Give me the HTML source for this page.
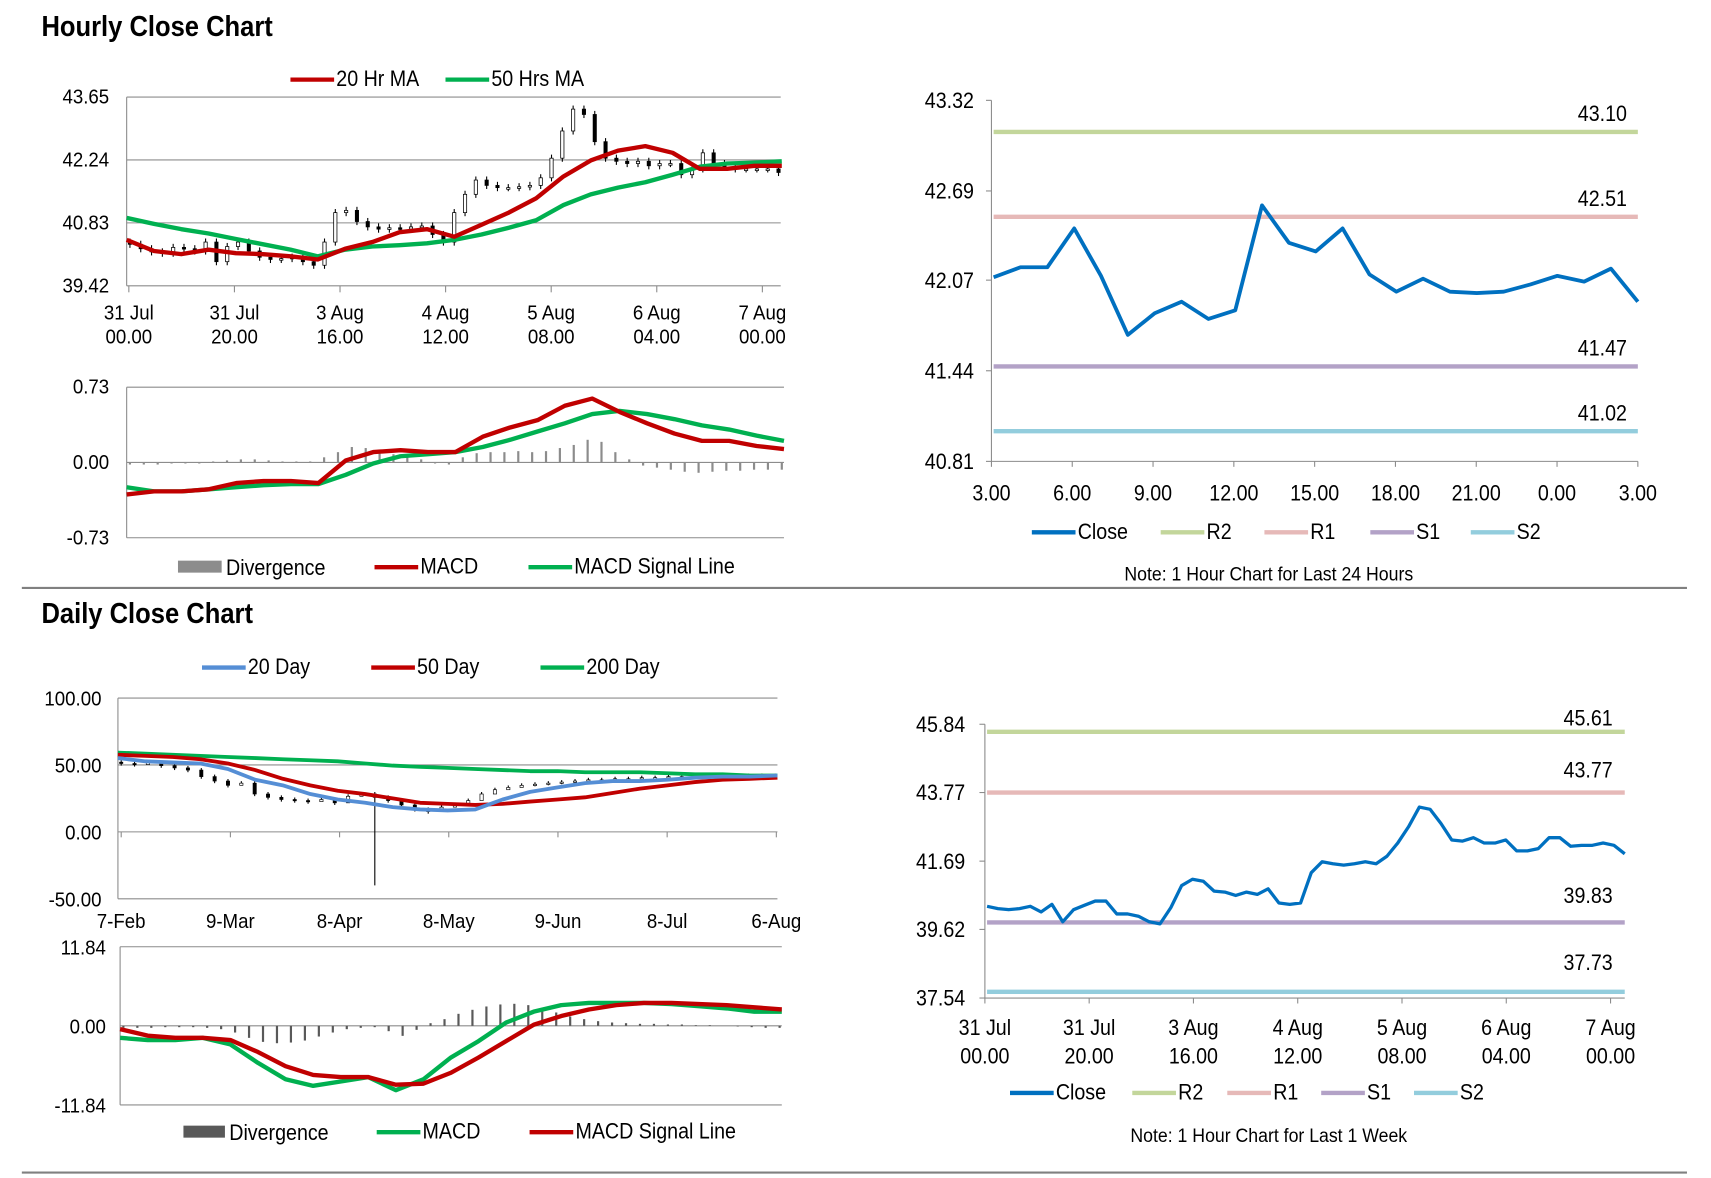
<!DOCTYPE html>
<html><head><meta charset="utf-8">
<style>
html,body{margin:0;padding:0;background:#fff;}
svg{display:block;}
text{font-family:"Liberation Sans Narrow","Liberation Sans",sans-serif;fill:#000;}
</style></head>
<body>
<svg id="c" width="1711" height="1178" viewBox="0 0 1567 1080" preserveAspectRatio="none" xmlns="http://www.w3.org/2000/svg"></svg>
<script>
// ---- Hourly candle chart data ----
const hCloses = [40.35,40.25,40.18,40.15,40.28,40.25,40.20,40.40,39.96,40.30,40.40,40.20,40.06,40.01,40.03,40.06,39.96,39.88,40.40,41.06,41.11,40.86,40.74,40.69,40.72,40.69,40.74,40.76,40.57,40.40,41.06,41.47,41.79,41.67,41.62,41.62,41.64,41.67,41.84,42.28,42.89,43.38,43.26,42.65,42.28,42.21,42.16,42.21,42.11,42.16,42.16,41.91,42.04,42.40,42.16,42.09,42.04,42.04,42.04,42.04,41.96];
const hMA20 = [40.45,40.20,40.13,40.23,40.15,40.13,40.08,40.01,40.25,40.40,40.62,40.69,40.52,40.79,41.06,41.38,41.87,42.23,42.45,42.55,42.40,42.04,42.04,42.11,42.11];
const hMA50 = [40.94,40.81,40.69,40.59,40.47,40.35,40.23,40.08,40.23,40.30,40.33,40.37,40.45,40.57,40.72,40.89,41.23,41.47,41.62,41.74,41.91,42.09,42.16,42.18,42.21];
const hYTicks = [39.42,40.83,42.24,43.65];
const hXLabels1 = ["31 Jul","31 Jul","3 Aug","4 Aug","5 Aug","6 Aug","7 Aug"];
const hXLabels2 = ["00.00","20.00","16.00","12.00","08.00","04.00","00.00"];
// ---- Hourly MACD ----
const hMacd = [-0.31,-0.28,-0.28,-0.26,-0.20,-0.18,-0.18,-0.20,0.02,0.10,0.12,0.10,0.10,0.25,0.34,0.41,0.55,0.62,0.49,0.38,0.28,0.21,0.21,0.16,0.13];
const hSignal = [-0.24,-0.28,-0.28,-0.26,-0.24,-0.22,-0.21,-0.21,-0.12,-0.01,0.06,0.08,0.10,0.15,0.22,0.30,0.38,0.47,0.50,0.47,0.42,0.36,0.32,0.26,0.21];
const hDiv = [-0.02,-0.02,-0.02,-0.01,-0.01,-0.01,0.01,0.02,0.03,0.03,0.02,0.01,0.01,0.01,0.05,0.1,0.15,0.14,0.1,0.08,0.06,0.03,-0.01,-0.02,0.05,0.09,0.1,0.1,0.11,0.1,0.11,0.14,0.17,0.22,0.2,0.1,0.03,-0.03,-0.05,-0.07,-0.09,-0.1,-0.09,-0.08,-0.08,-0.07,-0.07,-0.07];
const hMacdTicks = [-0.73,0.00,0.73];
// ---- 24h close ----
const dayClose = [42.09,42.16,42.16,42.43,42.10,41.69,41.84,41.92,41.80,41.86,42.59,42.33,42.27,42.43,42.11,41.99,42.08,41.99,41.98,41.99,42.04,42.10,42.06,42.15,41.92];
const dayLevels = [43.10,42.51,41.47,41.02];
const dayYTicks = [40.81,41.44,42.07,42.69,43.32];
const dayXLabels = ["3.00","6.00","9.00","12.00","15.00","18.00","21.00","0.00","3.00"];
// ---- Daily chart ----
const dCloses = [51.1,50.3,51.9,49.5,47.8,46.2,41.3,38.0,34.8,36.4,28.3,25.8,24.2,23.4,22.6,24.2,21.7,26.6,28.3,25.8,23.4,20.1,16.8,15.2,18.5,20.1,23.4,28.3,31.5,33.2,34.8,35.6,36.4,37.2,38.0,38.9,38.9,39.7,39.7,40.5,40.5,41.3,41.3,41.3,42.1,41.3,42.1,41.3,42.1,41.3];
const dLows = [49.5,48.8,50.3,47.9,46.2,44.6,39.7,36.4,33.2,34.8,26.7,24.2,22.6,21.8,21.0,22.6,20.1,25.0,26.7,-40.0,21.8,18.5,15.2,13.6,16.9,18.5,21.8,26.7,29.9,31.6,33.2,34.0,34.8,35.6,36.4,37.3,37.3,38.1,38.1,38.9,38.9,39.7,39.7,39.7,40.5,39.7,40.5,39.7,40.5,39.7];
const d20 = [55.2,52.7,51.9,51.1,47.0,38.9,34.8,28.3,24.2,21.7,18.5,16.8,16.0,16.8,24.2,29.9,33.2,36.4,38.0,38.0,38.9,40.5,41.3,41.3,42.1];
const d50 = [57.6,56.8,56.0,54.3,51.1,46.2,39.7,34.8,30.7,28.3,25.0,21.7,20.9,20.1,20.9,22.6,24.2,25.8,29.1,32.3,34.8,37.2,38.9,39.7,40.5];
const d200 = [59.2,58.4,57.6,56.8,56.0,55.2,54.3,53.5,52.7,51.1,49.5,48.6,47.8,47.0,46.2,45.4,45.4,44.6,44.6,44.6,43.8,43.0,43.0,42.1,42.1];
const dYTicks = [-50,0,50,100];
const dXLabels = ["7-Feb","9-Mar","8-Apr","8-May","9-Jun","8-Jul","6-Aug"];
// ---- Daily MACD ----
const dMacd = [-1.80,-2.12,-2.12,-1.80,-2.78,-5.55,-8.00,-8.98,-8.33,-7.68,-9.63,-8.00,-4.74,-2.29,0.49,2.12,3.10,3.43,3.43,3.43,3.27,2.94,2.61,2.12,2.12];
const dSignal = [-0.49,-1.47,-1.80,-1.80,-2.12,-3.92,-6.04,-7.35,-7.68,-7.68,-8.82,-8.65,-7.02,-4.74,-2.29,0.16,1.47,2.45,3.10,3.43,3.43,3.27,3.10,2.78,2.45];
const dDiv = [-0.3,-0.3,-0.3,-0.2,-0.2,-0.2,-0.3,-0.5,-1.0,-1.8,-2.4,-2.6,-2.5,-2.2,-1.6,-1.0,-0.5,-0.3,-0.2,-0.8,-1.5,-0.6,0.4,1.0,1.8,2.4,2.9,3.2,3.3,3.1,2.6,2.0,1.4,1.0,0.7,0.5,0.4,0.3,0.3,0.2,0.2,0.1,0.1,0.0,-0.1,-0.2,-0.3,-0.3];
const dMacdTicks = [-11.84,0.00,11.84];
// ---- Week close ----
const wkClose = [40.32,40.25,40.22,40.25,40.32,40.15,40.38,39.85,40.22,40.35,40.48,40.48,40.09,40.09,40.02,39.85,39.79,40.28,40.95,41.14,41.08,40.78,40.75,40.65,40.75,40.68,40.85,40.42,40.38,40.42,41.34,41.67,41.61,41.57,41.61,41.67,41.61,41.84,42.24,42.73,43.33,43.26,42.83,42.33,42.30,42.40,42.24,42.24,42.33,42.00,42.00,42.07,42.40,42.40,42.14,42.17,42.17,42.24,42.17,41.91];
const wkLevels = [45.61,43.77,39.83,37.73];
const wkYTicks = [37.54,39.62,41.69,43.77,45.84];
const wkXLabels1 = ["31 Jul","31 Jul","3 Aug","4 Aug","5 Aug","6 Aug","7 Aug"];
const wkXLabels2 = ["00.00","20.00","16.00","12.00","08.00","04.00","00.00"];

const NS = "http://www.w3.org/2000/svg";
const svg = document.getElementById('c');
const SX = 0.9;
function mk(tag, attrs, name, parent){
  const e = document.createElementNS(NS, tag);
  for (const k in attrs) e.setAttribute(k, attrs[k]);
  
  
  (parent || svg).appendChild(e);
  return e;
}
function txt(x, y, s, name, size, anchor, weight){
  const t = mk('text', {x:(x/SX).toFixed(1), y:y, transform:'scale('+SX+',1)', 'font-size':size||17, 'text-anchor':anchor||'start', 'font-weight':weight||'normal'}, name);
  t.textContent = s;
  return t;
}
function lin(d0,d1,r0,r1){ return v => r0 + (v-d0)/(d1-d0)*(r1-r0); }
function line(x1,y1,x2,y2,stroke,w,name){ return mk('line',{x1:x1,y1:y1,x2:x2,y2:y2,stroke:stroke,'stroke-width':w},name); }
function poly(arr, xs, ys, color, w, name){
  const pts = arr.map((v,i)=>xs(i).toFixed(1)+','+ys(v).toFixed(1)).join(' ');
  return mk('polyline',{points:pts,fill:'none',stroke:color,'stroke-width':w,'stroke-linejoin':'round'},name);
}
function fmt(v,d){ return v.toFixed(d); }
function legendLine(x,y,color,label,name,w){
  line(x,y,x+40,y,color,w||4,name+'-swatch');
  txt(x+42,y+6,label,name+'-label',20);
}

// Titles & separators
txt(38,33,"Hourly Close Chart","hourly-title",26,'start','bold');
txt(38,571,"Daily Close Chart","daily-title",26,'start','bold');
line(20,539,1545,539,'#808080',2,'section-separator');
line(20,1075,1545,1075,'#808080',2,'bottom-separator');

// ===== Hourly candle chart =====
(function(){
  const L=116,R=715,T=89,B=262;
  const y = lin(39.42,43.65,B,T);
  hYTicks.forEach((v,i)=>{
    line(L,y(v),R,y(v),'#8c8c8c',1,'h-gridline');
    txt(100,y(v)+6,fmt(v,2),'h-y-tick-label',19,'end');
  });
  line(L,T,L,B,'#8c8c8c',1,'h-y-axis');
  hXLabels1.forEach((s,i)=>{
    const x = 118 + i*96.7;
    line(x,B,x,B+6,'#8c8c8c',1,'h-x-tick');
    txt(x,293,s,'h-x-tick-label',19,'middle');
    txt(x,315,hXLabels2[i],'h-x-tick-label-time',19,'middle');
  });
  const xc = lin(0,hCloses.length-1,L+3,R-2);
  hCloses.forEach((c,i)=>{
    const o = i>0 ? hCloses[i-1] : c+0.05;
    const hi = Math.max(o,c)+0.08, lo = Math.min(o,c)-0.08;
    const x = xc(i);
    line(x,y(hi),x,y(lo),'#000',1,'h-candle-wick');
    const top = y(Math.max(o,c)), h = Math.max(1.5, Math.abs(y(o)-y(c)));
    mk('rect',{x:x-1.5,y:top,width:3,height:h,fill:c>=o?'#fff':'#000',stroke:'#000','stroke-width':0.7},'h-candle');
  });
  const xm = lin(0,hMA20.length-1,L,R+1);
  poly(hMA50,xm,y,'#00b050',4,'h-ma50-line');
  poly(hMA20,xm,y,'#c00000',4,'h-ma20-line');
  legendLine(266,73,'#c00000','20 Hr MA','legend-20hr-ma');
  legendLine(408,73,'#00b050','50 Hrs MA','legend-50hrs-ma');
})();

// ===== Hourly MACD =====
(function(){
  const L=116,R=718,T=355,B=493;
  const y = lin(-0.73,0.73,B,T);
  line(L,T,R,T,'#8c8c8c',1,'hm-top-gridline');
  line(L,B,R,B,'#8c8c8c',1,'hm-bottom-gridline');
  line(L,y(0),R,y(0),'#8c8c8c',1,'hm-zero-line');
  line(L,T,L,B,'#8c8c8c',1,'hm-y-axis');
  hMacdTicks.forEach(v=>txt(100,y(v)+6,fmt(v,2),'hm-y-tick-label',19,'end'));
  const xb = lin(0,hDiv.length-1,L+3,R-2);
  hDiv.forEach((v,i)=>{
    mk('rect',{x:xb(i)-1,y:Math.min(y(v),y(0)),width:2,height:Math.abs(y(v)-y(0)),fill:'#8c8c8c'},'hm-divergence-bar');
  });
  const xm = lin(0,hMacd.length-1,L,R);
  poly(hSignal,xm,y,'#00b050',4,'hm-signal-line');
  poly(hMacd,xm,y,'#c00000',4,'hm-macd-line');
  mk('rect',{x:163,y:514,width:40,height:11,fill:'#8c8c8c'},'legend-divergence-swatch');
  txt(207,527,'Divergence','legend-divergence-label',20);
  legendLine(343,520,'#c00000','MACD','legend-macd');
  legendLine(484,520,'#00b050','MACD Signal Line','legend-macd-signal');
})();

// ===== 24h close chart =====
(function(){
  const L=908,R=1500,T=92,B=423;
  const y = lin(40.81,43.32,B,T);
  line(L,T,L,B,'#8c8c8c',1,'r1-y-axis');
  line(L,B,R,B,'#8c8c8c',1,'r1-x-axis');
  dayYTicks.forEach(v=>{
    line(L-5,y(v),L,y(v),'#8c8c8c',1,'r1-y-tick');
    txt(892,y(v)+7,fmt(v,2),'r1-y-tick-label',20,'end');
  });
  dayXLabels.forEach((s,i)=>{
    const x = L + i*(R-L)/8;
    line(x,B,x,B+5,'#8c8c8c',1,'r1-x-tick');
    txt(x,459,s,'r1-x-tick-label',20,'middle');
  });
  const cols = ['#c3d69b','#e6b9b8','#b3a2c7','#93cddd'];
  const names = ['r2','r1','s1','s2'];
  dayLevels.forEach((v,i)=>{
    line(L+2,y(v),R,y(v),cols[i],4,'r1-level-'+names[i]);
    txt(1490,y(v)-10,fmt(v,2),'r1-level-label-'+names[i],20,'end');
  });
  const x = lin(0,dayClose.length-1,L+2,R);
  poly(dayClose,x,y,'#0070c0',3.5,'r1-close-line');
  legendLine(945,488,'#0070c0','Close','legend-close');
  legendLine(1063,488,'#c3d69b','R2','legend-r2');
  legendLine(1158,488,'#e6b9b8','R1','legend-r1');
  legendLine(1255,488,'#b3a2c7','S1','legend-s1');
  legendLine(1347,488,'#93cddd','S2','legend-s2');
  txt(1162,532,'Note: 1 Hour Chart for Last 24 Hours','r1-note',18,'middle');
})();

// ===== Daily chart =====
(function(){
  const L=108,R=712,T=640,B=824;
  const y = lin(-50,100,B,T);
  dYTicks.forEach(v=>{
    line(L,y(v),R,y(v),'#8c8c8c',1,'d-gridline');
    txt(93,y(v)+7,fmt(v,2),'d-y-tick-label',19,'end');
  });
  line(L,T,L,B,'#8c8c8c',1,'d-y-axis');
  dXLabels.forEach((s,i)=>{
    const x = 111 + i*100;
    line(x,y(0),x,y(0)+5,'#8c8c8c',1,'d-x-tick');
    txt(x,851,s,'d-x-tick-label',19,'middle');
  });
  const xc = lin(0,dCloses.length-1,L+3,R-2);
  dCloses.forEach((c,i)=>{
    const o = i>0 ? dCloses[i-1] : c+1;
    const x = xc(i);
    line(x,y(Math.max(o,c)+1.5),x,y(dLows[i]),'#000',1,'d-candle-wick');
    mk('rect',{x:x-1.5,y:y(Math.max(o,c)),width:3,height:Math.max(1.2,Math.abs(y(o)-y(c))),fill:c>=o?'#fff':'#000',stroke:'#000','stroke-width':0.6},'d-candle');
  });
  const xm = lin(0,d20.length-1,L,R);
  poly(d200,xm,y,'#00b050',3.5,'d-200day-line');
  poly(d50,xm,y,'#c00000',3.5,'d-50day-line');
  poly(d20,xm,y,'#558ed5',3.5,'d-20day-line');
  legendLine(185,612,'#558ed5','20 Day','legend-20-day');
  legendLine(340,612,'#c00000','50 Day','legend-50-day');
  legendLine(495,612,'#00b050','200 Day','legend-200-day');
})();

// ===== Daily MACD =====
(function(){
  const L=110,R=716,T=868,B=1013;
  const y = lin(-11.84,11.84,B,T);
  line(L,T,R,T,'#8c8c8c',1,'dm-top-gridline');
  line(L,B,R,B,'#8c8c8c',1,'dm-bottom-gridline');
  line(L,y(0),R,y(0),'#8c8c8c',1,'dm-zero-line');
  line(L,T,L,B,'#8c8c8c',1,'dm-y-axis');
  dMacdTicks.forEach(v=>txt(97,y(v)+7,fmt(v,2),'dm-y-tick-label',19,'end'));
  const xb = lin(0,dDiv.length-1,L+3,R-2);
  dDiv.forEach((v,i)=>{
    mk('rect',{x:xb(i)-1,y:Math.min(y(v),y(0)),width:2,height:Math.abs(y(v)-y(0)),fill:'#595959'},'dm-divergence-bar');
  });
  const xm = lin(0,dMacd.length-1,L,R);
  poly(dMacd,xm,y,'#00b050',4,'dm-macd-line');
  poly(dSignal,xm,y,'#c00000',4,'dm-signal-line');
  mk('rect',{x:168,y:1032,width:38,height:11,fill:'#595959'},'legend-d-divergence-swatch');
  txt(210,1045,'Divergence','legend-d-divergence-label',20);
  legendLine(345,1038,'#00b050','MACD','legend-d-macd');
  legendLine(485,1038,'#c00000','MACD Signal Line','legend-d-macd-signal');
})();

// ===== Week close chart =====
(function(){
  const L=902,R=1488,T=664,B=915;
  const y = lin(37.54,45.84,B,T);
  line(L,T,L,B,'#8c8c8c',1,'r2-y-axis');
  line(L,B,R,B,'#8c8c8c',1,'r2-x-axis');
  wkYTicks.forEach(v=>{
    line(L-5,y(v),L,y(v),'#8c8c8c',1,'r2-y-tick');
    txt(884,y(v)+7,fmt(v,2),'r2-y-tick-label',20,'end');
  });
  wkXLabels1.forEach((s,i)=>{
    const x = L + i*95.5;
    line(x,B,x,B+5,'#8c8c8c',1,'r2-x-tick');
    txt(x,949,s,'r2-x-tick-label',20,'middle');
    txt(x,975,wkXLabels2[i],'r2-x-tick-label-time',20,'middle');
  });
  const cols = ['#c3d69b','#e6b9b8','#b3a2c7','#93cddd'];
  const names = ['r2','r1','s1','s2'];
  const off = [-6,-14,-18,-20];
  wkLevels.forEach((v,i)=>{
    line(L+2,y(v),R,y(v),cols[i],4,'r2-level-'+names[i]);
    txt(1477,y(v)+off[i],fmt(v,2),'r2-level-label-'+names[i],20,'end');
  });
  const x = lin(0,wkClose.length-1,L+2,R);
  poly(wkClose,x,y,'#0070c0',3,'r2-close-line');
  legendLine(925,1002,'#0070c0','Close','legend-w-close');
  legendLine(1037,1002,'#c3d69b','R2','legend-w-r2');
  legendLine(1124,1002,'#e6b9b8','R1','legend-w-r1');
  legendLine(1210,1002,'#b3a2c7','S1','legend-w-s1');
  legendLine(1295,1002,'#93cddd','S2','legend-w-s2');
  txt(1162,1047,'Note: 1 Hour Chart for Last 1 Week','r2-note',18,'middle');
})();
</script>
</body></html>
